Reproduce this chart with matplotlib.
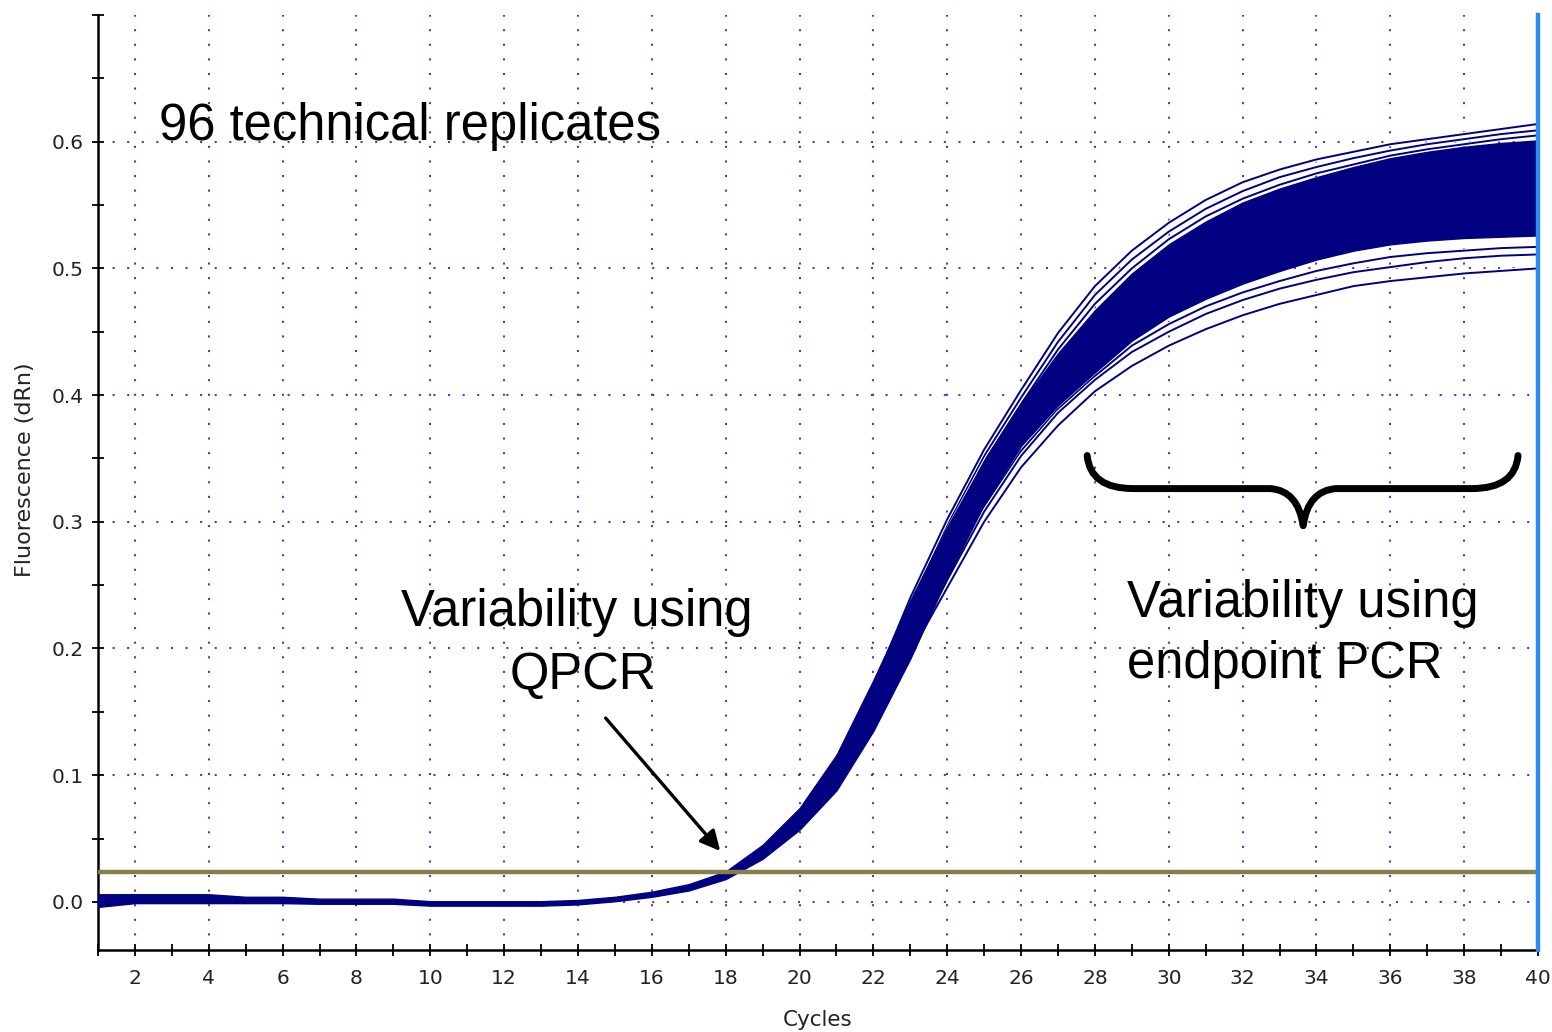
import matplotlib
matplotlib.use("Agg")
from matplotlib import pyplot as plt
from matplotlib.path import Path
from matplotlib.patches import PathPatch
import matplotlib.patheffects as pe

# amplification plot values
cycles = list(range(1, 41))

# dense band of the 96 replicates (lower / upper edge per cycle)
band_low = [-0.004, -0.001, -0.001, -0.001, -0.001, -0.001, -0.0015, -0.0015, -0.0015, -0.003,
            -0.003, -0.003, -0.003, -0.002, 0.0005, 0.004, 0.009, 0.018, 0.034, 0.057,
            0.088, 0.135, 0.192, 0.256, 0.314, 0.360, 0.392, 0.418, 0.443, 0.462,
            0.476, 0.488, 0.498, 0.507, 0.514, 0.519, 0.522, 0.524, 0.525, 0.526]
band_high = [0.006, 0.006, 0.006, 0.006, 0.004, 0.004, 0.0025, 0.0025, 0.0025, 0.0005,
             0.0005, 0.0005, 0.0005, 0.0015, 0.004, 0.008, 0.014, 0.024, 0.045, 0.074,
             0.116, 0.175, 0.238, 0.296, 0.348, 0.393, 0.433, 0.467, 0.496, 0.519,
             0.537, 0.552, 0.563, 0.572, 0.580, 0.587, 0.592, 0.596, 0.599, 0.601]

# single replicates that stand apart from the band (cycles 22-40)
late_cycles = list(range(22, 41))
rep_high_a = [0.170, 0.240, 0.302, 0.357, 0.404, 0.449, 0.486, 0.514, 0.536, 0.554,
              0.568, 0.578, 0.586, 0.592, 0.598, 0.602, 0.606, 0.610, 0.614]
rep_high_b = [0.168, 0.236, 0.298, 0.352, 0.398, 0.442, 0.479, 0.507, 0.529, 0.547,
              0.561, 0.572, 0.580, 0.587, 0.593, 0.598, 0.602, 0.606, 0.609]
rep_high_c = [0.166, 0.233, 0.295, 0.348, 0.393, 0.436, 0.472, 0.500, 0.523, 0.541,
              0.555, 0.566, 0.575, 0.582, 0.589, 0.594, 0.598, 0.602, 0.605]
rep_low_a = [0.140, 0.196, 0.248, 0.300, 0.343, 0.376, 0.403, 0.423, 0.439, 0.452,
             0.463, 0.472, 0.479, 0.486, 0.490, 0.493, 0.496, 0.498, 0.500]
rep_low_b = [0.140, 0.197, 0.254, 0.308, 0.352, 0.386, 0.412, 0.434, 0.450, 0.464,
             0.475, 0.484, 0.491, 0.497, 0.501, 0.505, 0.508, 0.510, 0.511]
rep_low_c = [0.140, 0.198, 0.257, 0.312, 0.356, 0.389, 0.415, 0.439, 0.456, 0.470,
             0.481, 0.490, 0.498, 0.504, 0.509, 0.512, 0.514, 0.516, 0.517]

THRESHOLD = 0.0237
x_labels = [str(c) for c in range(2, 41, 2)]
y_labels = ["0.0", "0.1", "0.2", "0.3", "0.4", "0.5", "0.6"]

NAVY = "#000080"
GRID = "#6a2fb0"

fig = plt.figure(figsize=(15.52, 10.32), dpi=100)
ax = fig.add_axes([98 / 1552, 1 - 950 / 1032, (1538 - 98) / 1552, (950 - 15) / 1032])

ax.set_xlim(1, 40)
ax.set_ylim(-0.038, 0.70)

# outer replicates first, band on top so only the parts outside the band show
halo = [pe.Stroke(linewidth=3.0, foreground="white"), pe.Normal()]
for rep in [rep_low_c, rep_low_b, rep_low_a, rep_high_c, rep_high_b, rep_high_a]:
    ax.plot(late_cycles, rep, color=NAVY, linewidth=1.4, zorder=2, path_effects=halo)
ax.fill_between(cycles, band_low, band_high, color=NAVY, linewidth=1.0, edgecolor=NAVY, zorder=3)

ax.axhline(THRESHOLD, color="#857f48", linewidth=3.2, zorder=4)
ax.axvline(40, color="#2a8cf0", linewidth=3.2, zorder=5, clip_on=False)

# ticks / grid
ax.set_xticks(range(2, 41, 2))
ax.set_xticklabels(x_labels)
ax.set_xticks(range(1, 40, 2), minor=True)
ax.set_yticks([0.0, 0.1, 0.2, 0.3, 0.4, 0.5, 0.6])
ax.set_yticklabels(y_labels)
ax.set_yticks([0.05, 0.15, 0.25, 0.35, 0.45, 0.55, 0.65, 0.70], minor=True)
ax.tick_params(which="both", direction="inout", length=8, width=1.3, color="black")
ax.tick_params(axis="x", which="major", labelsize=14.5, pad=10, labelcolor="#222222")
ax.tick_params(axis="y", which="major", labelsize=14.5, pad=6, labelcolor="#222222")
ax.set_axisbelow(True)
ax.grid(True, which="major", color=GRID, linestyle=(0, (1, 6)), linewidth=1.5)

for side in ["top", "right"]:
    ax.spines[side].set_visible(False)
for side in ["left", "bottom"]:
    ax.spines[side].set_linewidth(1.8)

fig.text(818 / 1552, 1 - 1026 / 1032, "Cycles", ha="center", va="baseline",
         fontsize=15.5, color="#222222")
fig.text(25 / 1552, 1 - 470 / 1032, "Fluorescence (dRn)", rotation=90, ha="center", va="center",
         fontsize=16, color="#222222")

# annotations
big = dict(fontsize=36.5, family="Liberation Sans", color="black", zorder=6)
ax.text(2.65, 0.601, "96 technical replicates", ha="left", va="baseline", **big)
ax.text(13.96, 0.218, "Variability using", ha="center", va="baseline", **big)
ax.text(14.13, 0.168, "QPCR", ha="center", va="baseline", **big)
ax.text(28.86, 0.2246, "Variability using", ha="left", va="baseline", **big)
ax.text(28.86, 0.1763, "endpoint PCR", ha="left", va="baseline", **big)

ax.annotate("", xy=(17.9, 0.0385), xytext=(14.70, 0.1467),
            arrowprops=dict(arrowstyle="-|>", color="black", lw=2.4, mutation_scale=30),
            zorder=6)

verts = [(27.79, 0.3523), (27.87, 0.3262), (29.04, 0.3262), (32.75, 0.3262),
         (33.50, 0.3246), (33.64, 0.2969), (33.77, 0.3246), (34.53, 0.3262),
         (38.21, 0.3262), (39.38, 0.3262), (39.46, 0.3523)]
codes = [Path.MOVETO, Path.CURVE3, Path.CURVE3, Path.LINETO,
         Path.CURVE3, Path.CURVE3, Path.CURVE3, Path.CURVE3,
         Path.LINETO, Path.CURVE3, Path.CURVE3]
ax.add_patch(PathPatch(Path(verts, codes), fill=False, lw=5, color="black",
                       capstyle="round", joinstyle="round", zorder=6))

fig.savefig("out.png", dpi=100)
